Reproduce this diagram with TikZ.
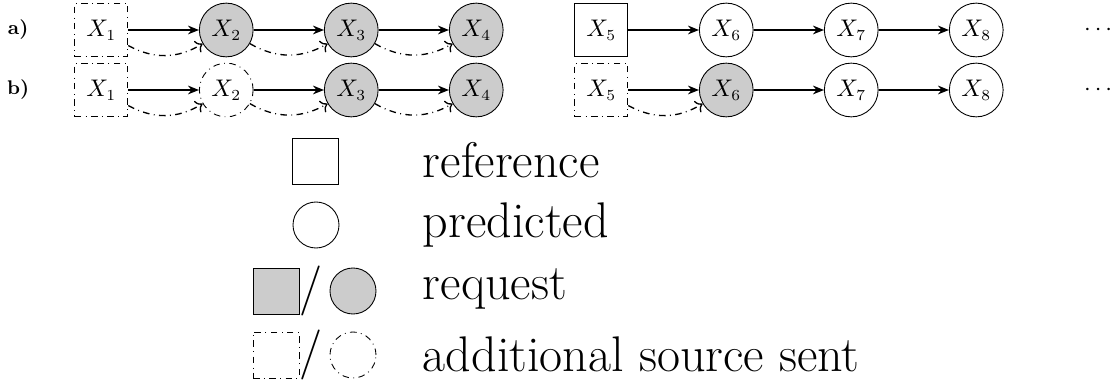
\documentclass[tikz,border=0pt]{standalone}
\usetikzlibrary{shapes,arrows,arrows.meta,positioning,calc}

\begin{document}
\begin{tikzpicture}[node distance=2cm,
  every node/.style={font=\fontsize{10.5}{12}\selectfont},
  refbox/.style={draw, rectangle, minimum size=0.85cm, inner sep=0pt},
  predcirc/.style={draw, circle, minimum size=0.86cm, inner sep=0pt},
  req/.style={fill=gray!40},
  sent/.style={dash dot},
  flow/.style={-{Stealth[length=5pt,width=4pt]}, semithick},
  extra/.style={->, dash dot, semithick, bend right=30},
  legsym/.style={minimum size=0.736cm},
  legfont/.style={font=\fontsize{22.8}{27}\selectfont},
  legtext/.style={anchor=base west, inner sep=0pt, legfont}]
\useasboundingbox (0,0) rectangle (17.84,-6.16);

% 行 a
\node[refbox, sent] (a1) at (1.62,-0.48) {$X_1$};
\node[predcirc, req, right of=a1] (a2) {$X_2$};
\node[predcirc, req, right of=a2] (a3) {$X_3$};
\node[predcirc, req, right of=a3] (a4) {$X_4$};
\node[refbox, right of=a4] (a5) {$X_5$};
\node[predcirc, right of=a5] (a6) {$X_6$};
\node[predcirc, right of=a6] (a7) {$X_7$};
\node[predcirc, right of=a7] (a8) {$X_8$};
\node[right of=a8, node distance=1.95cm] (adots) {$\cdots$};
\node[left of=a1, node distance=1.33cm, font=\small\bfseries] (alabel) {a)};

% 行 b
\node[refbox, sent, below of=a1, node distance=0.96cm] (b1) {$X_1$};
\node[predcirc, sent, right of=b1] (b2) {$X_2$};
\node[predcirc, req, right of=b2] (b3) {$X_3$};
\node[predcirc, req, right of=b3] (b4) {$X_4$};
\node[refbox, sent, right of=b4] (b5) {$X_5$};
\node[predcirc, req, right of=b5] (b6) {$X_6$};
\node[predcirc, right of=b6] (b7) {$X_7$};
\node[predcirc, right of=b7] (b8) {$X_8$};
\node[right of=b8, node distance=1.95cm] (bdots) {$\cdots$};
\node[left of=b1, node distance=1.33cm, font=\small\bfseries] (blabel) {b)};

% 转换
\draw[flow] (a1) -- (a2);
\draw[flow] (a2) -- (a3);
\draw[flow] (a3) -- (a4);
\draw[flow] (a5) -- (a6);
\draw[flow] (a6) -- (a7);
\draw[flow] (a7) -- (a8);
\draw[extra] (a1) to (a2);
\draw[extra] (a2) to (a3);
\draw[extra] (a3) to (a4);

\draw[flow] (b1) -- (b2);
\draw[flow] (b2) -- (b3);
\draw[flow] (b3) -- (b4);
\draw[flow] (b5) -- (b6);
\draw[flow] (b6) -- (b7);
\draw[flow] (b7) -- (b8);
\draw[extra] (b1) to (b2);
\draw[extra] (b2) to (b3);
\draw[extra] (b3) to (b4);
\draw[extra] (b5) to (b6);

% 图例
\node[refbox, legsym] (lref) at (5.04,-2.576) {};
\node[predcirc, legsym] (lpred) at (5.056,-3.6) {};
\node[refbox, req, legsym] (lreqbox) at (4.416,-4.656) {};
\node[legfont, inner sep=0pt] (lreqslash) at (4.976,-4.656) {/};
\node[predcirc, req, legsym] (lreqcirc) at (5.648,-4.656) {};
\node[refbox, sent, legsym] (laddbox) at (4.416,-5.68) {};
\node[legfont, inner sep=0pt] (laddslash) at (4.976,-5.68) {/};
\node[predcirc, sent, legsym] (laddcirc) at (5.648,-5.68) {};

\node[legtext] (tref) at (6.76,-2.848) {reference};
\node[legtext] (tpred) at (6.76,-3.808) {predicted};
\node[legtext] (treq) at (6.76,-4.8) {request};
\node[legtext] (tadd) at (6.76,-5.952) {additional source sent};
\end{tikzpicture}
\end{document}
